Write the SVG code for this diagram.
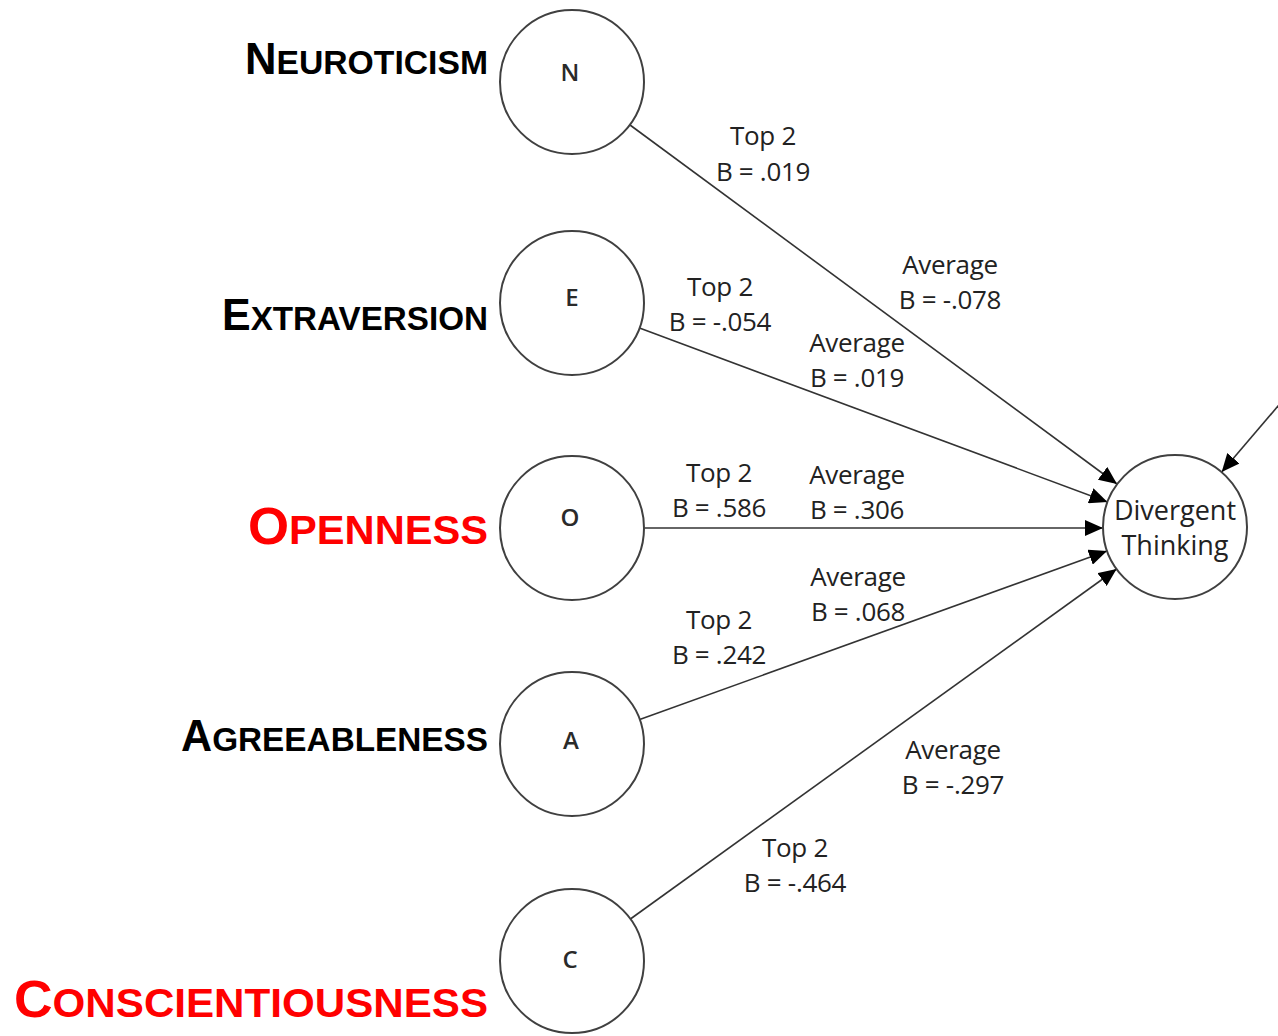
<svg xmlns="http://www.w3.org/2000/svg" width="1278" height="1036" viewBox="0 0 1278 1036">
<style>
.bg{fill:#ffffff}
.node{fill:#ffffff;stroke:#404040;stroke-width:2}
.edge{stroke:#333333;stroke-width:1.6;fill:none;marker-end:url(#arr)}
.lt{font-family:"Open Sans","Liberation Sans",sans-serif;font-size:26px;fill:#222222;text-anchor:middle;letter-spacing:-0.3px}
.nl{font-family:"Open Sans","Liberation Sans",sans-serif;font-size:24px;font-weight:600;fill:#2a2a2a;text-anchor:middle}
.dt{font-family:"Open Sans","Liberation Sans",sans-serif;font-size:27px;fill:#222222;text-anchor:middle}
.big{font-family:"Liberation Sans",Arial,sans-serif;font-weight:bold;fill:#000000}
.red{fill:#ff0000}
</style>
<defs>
<marker id="arr" markerUnits="userSpaceOnUse" markerWidth="19" markerHeight="16" refX="18" refY="8" orient="auto">
<path d="M0,0 L18,8 L0,16 z" fill="#000000"/>
</marker>
</defs>
<rect class="bg" x="0" y="0" width="1278" height="1036"/>

<g id="connectors">
<line class="edge" x1="630" y1="125" x2="1117" y2="484"/>
<line class="edge" x1="639.5" y1="328" x2="1107.5" y2="502"/>
<line class="edge" x1="645" y1="528" x2="1103" y2="528"/>
<line class="edge" x1="639.7" y1="719.6" x2="1107" y2="551"/>
<line class="edge" x1="630.4" y1="919" x2="1116.6" y2="569"/>
<line class="edge" x1="1290" y1="392" x2="1221.7" y2="472"/>
</g>

<g id="node-N">
<circle class="node" cx="572" cy="82" r="72"/>
<text class="nl" x="570" y="81">N</text>
<text class="big" x="245" y="74" textLength="243" lengthAdjust="spacingAndGlyphs"><tspan font-size="44">N</tspan><tspan font-size="34">EUROTICISM</tspan></text>
</g>
<g id="node-E">
<circle class="node" cx="572" cy="303" r="72"/>
<text class="nl" x="572" y="306">E</text>
<text class="big" x="222" y="330" textLength="266" lengthAdjust="spacingAndGlyphs"><tspan font-size="44">E</tspan><tspan font-size="34">XTRAVERSION</tspan></text>
</g>
<g id="node-O">
<circle class="node" cx="572" cy="528" r="72"/>
<text class="nl" x="570" y="526">O</text>
<text class="big red" x="248" y="544" textLength="240" lengthAdjust="spacingAndGlyphs"><tspan font-size="52">O</tspan><tspan font-size="41">PENNESS</tspan></text>
</g>
<g id="node-A">
<circle class="node" cx="572" cy="744" r="72"/>
<text class="nl" x="571" y="749">A</text>
<text class="big" x="181" y="751" textLength="307" lengthAdjust="spacingAndGlyphs"><tspan font-size="44">A</tspan><tspan font-size="34">GREEABLENESS</tspan></text>
</g>
<g id="node-C">
<circle class="node" cx="572" cy="961" r="72"/>
<text class="nl" x="570" y="968">C</text>
<text class="big red" x="14" y="1017" textLength="474" lengthAdjust="spacingAndGlyphs"><tspan font-size="52">C</tspan><tspan font-size="41">ONSCIENTIOUSNESS</tspan></text>
</g>
<g id="node-DT">
<circle class="node" cx="1175" cy="527" r="72"/>
<text class="dt" x="1175" y="520">Divergent</text>
<text class="dt" x="1175" y="555">Thinking</text>
</g>

<g id="edge-labels">
<text class="lt" x="763" y="145">Top 2</text>
<text class="lt" x="763" y="181">B = .019</text>
<text class="lt" x="950" y="274">Average</text>
<text class="lt" x="950" y="309">B = -.078</text>
<text class="lt" x="720" y="296">Top 2</text>
<text class="lt" x="720" y="331">B = -.054</text>
<text class="lt" x="857" y="352">Average</text>
<text class="lt" x="857" y="387">B = .019</text>
<text class="lt" x="719" y="482">Top 2</text>
<text class="lt" x="719" y="517">B = .586</text>
<text class="lt" x="857" y="484">Average</text>
<text class="lt" x="857" y="519">B = .306</text>
<text class="lt" x="858" y="586">Average</text>
<text class="lt" x="858" y="621">B = .068</text>
<text class="lt" x="719" y="629">Top 2</text>
<text class="lt" x="719" y="664">B = .242</text>
<text class="lt" x="953" y="759">Average</text>
<text class="lt" x="953" y="794">B = -.297</text>
<text class="lt" x="795" y="857">Top 2</text>
<text class="lt" x="795" y="892">B = -.464</text>
</g>
</svg>
